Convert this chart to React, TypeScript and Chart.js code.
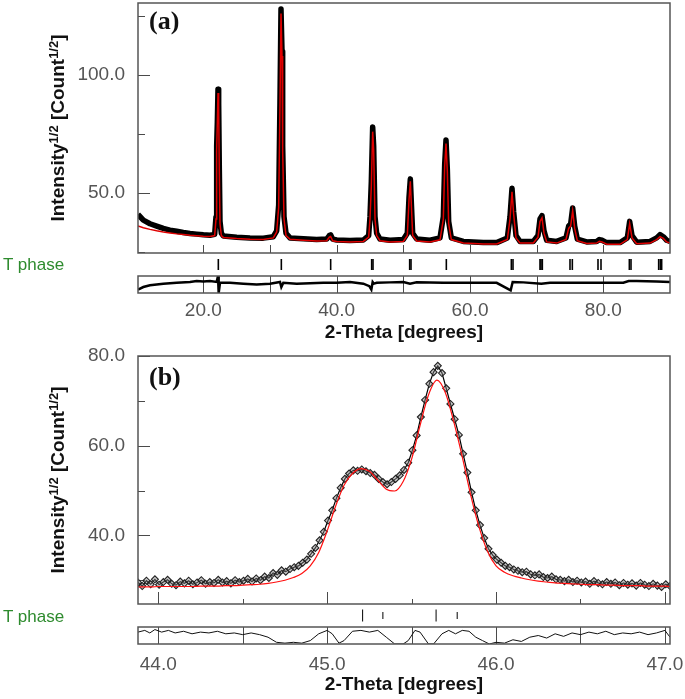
import React, { useEffect, useRef } from "react";
import { Chart, registerables } from "chart.js";

Chart.register(...registerables);

// ---------------- Panel (a): full pattern ----------------
const aTheta = [10.2, 11, 12, 13, 14, 15, 16, 17, 18, 19, 20, 21, 21.7, 21.9, 22.0, 22.1, 22.2, 22.3, 22.4, 22.5, 22.7, 23, 25, 27, 29, 30.5, 31.0, 31.3, 31.5, 31.65, 31.8, 31.9, 32.1, 32.4, 33, 35, 37, 38.5, 38.9, 39.1, 39.4, 40, 42, 44, 44.8, 45.0, 45.2, 45.4, 45.55, 45.75, 46, 46.5, 48, 50, 50.6, 50.85, 51.05, 51.2, 51.4, 52, 54, 55.5, 56.0, 56.2, 56.4, 56.6, 56.8, 57.2, 59, 62, 64, 65.6, 66.0, 66.3, 66.55, 66.9, 67.5, 69.5, 70.2, 70.5, 70.8, 71.1, 71.5, 73, 74.4, 74.8, 75.1, 75.4, 75.7, 76.1, 77.5, 79, 79.4, 79.8, 80.5, 82.5, 83.6, 83.95, 84.3, 85, 87, 88, 88.5, 89, 89.5, 90];
const aObs = [41, 38.5, 37, 36, 35, 34.3, 33.8, 33.3, 32.9, 32.6, 32.3, 32.1, 32.5, 40, 70, 80, 94, 88, 60, 38, 33, 31.8, 31.3, 31, 30.9, 31.5, 34, 45, 90, 128, 110, 70, 40, 33, 31, 30.6, 30.3, 30.5, 32, 32.3, 30.5, 30.1, 29.9, 30.1, 32, 40, 55, 78, 70, 40, 33, 30.5, 30, 30.3, 33, 48, 56, 46, 33, 30.5, 30, 31, 40, 62, 72.5, 60, 38, 31, 29.5, 29, 29, 31, 40, 52, 42, 32, 29.5, 29.5, 32, 39, 40.4, 34, 30, 29.5, 31, 36, 37, 43.7, 36, 30.5, 29.3, 29.5, 30.3, 30, 29, 29, 31, 38, 32, 29.2, 29.5, 31, 32.4, 31.5, 30, 29.5];
const aCalc = [36, 35.3, 34.6, 34, 33.5, 33.1, 32.7, 32.4, 32.1, 31.9, 31.7, 31.6, 32, 39, 68, 80, 92.4, 86, 58, 37, 32, 31.2, 30.7, 30.4, 30.3, 31, 33.5, 44, 88, 126, 108, 68, 39, 32, 30.4, 30, 29.7, 29.8, 31.3, 31.6, 29.8, 29.5, 29.3, 29.5, 31.3, 39, 53, 76, 68, 39, 32, 29.8, 29.3, 29.5, 32, 47, 55, 45, 32, 29.7, 29.3, 30.2, 39, 61, 71, 59, 37, 30.3, 28.8, 28.4, 28.4, 30.3, 39, 50.5, 41, 31, 28.8, 28.8, 31.3, 38, 39.5, 33, 29.3, 28.8, 30.3, 35, 36, 42.5, 35, 29.8, 28.6, 28.8, 29.6, 29.3, 28.3, 28.3, 30.3, 37, 31, 28.5, 28.8, 30.3, 31.5, 30.8, 29.3, 28.8];
const aDiffTheta = [10.2, 11, 12, 13, 14, 16, 18, 19, 20, 21, 22.0, 22.2, 22.3, 22.5, 24, 26, 28, 30, 31.5, 31.7, 32, 34, 36, 38, 40, 42, 44, 44.9, 45.2, 45.4, 45.6, 46, 48, 50, 51, 52, 56, 60, 64, 66.1, 66.4, 68, 70.7, 72, 75, 78, 80, 83, 83.8, 85, 88, 90];
const aDiff = [-6, -3, -1, 0, 1, 2, 3, 4, 3.5, 4, 3, 10, -10, 2, 2, 1, 0, 1, 3, -3, 2, 1, 1.5, 2, 2, 3, 1, -2, -6, 3, 1, 2, 2.5, 3, 1, 2.5, 2, 2, 2, -7, 3, 2.5, 1, 2, 2, 2, 2, 2, 4, 4, 3.5, 3];
const aTPhase = [22.25, 31.7, 39.1, 45.25, 45.45, 50.95, 51.15, 56.45, 66.2, 66.45, 70.5, 70.65, 70.85, 75.0, 75.35, 79.2, 79.65, 83.9, 84.15, 88.3, 88.55, 88.75];
const aXTicks = [20, 30, 40, 50, 60, 70, 80];
const aXLabels = [20, 40, 60, 80];
const aYTicks = [25, 50, 75, 100, 125];
const aYLabels = [50, 100];

// ---------------- Panel (b): zoom on 45° doublet ----------------
const bObsTheta = [43.88, 43.905, 43.93, 43.955, 43.98, 44.005, 44.03, 44.055, 44.08, 44.105, 44.13, 44.155, 44.18, 44.205, 44.23, 44.255, 44.28, 44.305, 44.33, 44.355, 44.38, 44.405, 44.43, 44.455, 44.48, 44.505, 44.53, 44.555, 44.58, 44.605, 44.63, 44.655, 44.68, 44.705, 44.73, 44.755, 44.78, 44.805, 44.83, 44.855, 44.88, 44.905, 44.93, 44.955, 44.98, 45.005, 45.03, 45.055, 45.08, 45.105, 45.13, 45.155, 45.18, 45.205, 45.23, 45.255, 45.28, 45.305, 45.33, 45.355, 45.38, 45.405, 45.43, 45.455, 45.48, 45.505, 45.53, 45.555, 45.58, 45.605, 45.63, 45.655, 45.68, 45.705, 45.73, 45.755, 45.78, 45.805, 45.83, 45.855, 45.88, 45.905, 45.93, 45.955, 45.98, 46.005, 46.03, 46.055, 46.08, 46.105, 46.13, 46.155, 46.18, 46.205, 46.23, 46.255, 46.28, 46.305, 46.33, 46.355, 46.38, 46.405, 46.43, 46.455, 46.48, 46.505, 46.53, 46.555, 46.58, 46.605, 46.63, 46.655, 46.68, 46.705, 46.73, 46.755, 46.78, 46.805, 46.83, 46.855, 46.88, 46.905, 46.93, 46.955, 46.98, 47.005, 47.03];
const bObs = [29.5, 28.7, 29.9, 29.1, 30.2, 29.0, 29.6, 30.1, 29.2, 28.9, 29.7, 29.3, 29.9, 29.1, 29.5, 30.0, 29.2, 29.6, 29.4, 30.1, 29.5, 29.8, 29.3, 30.0, 29.6, 29.9, 30.3, 29.7, 30.4, 30.0, 30.8, 30.5, 31.6, 31.2, 32.2, 31.9, 32.5, 32.9, 33.2, 33.9, 34.6, 35.9, 37.2, 38.9, 40.8, 43.3, 45.6, 48.3, 50.6, 52.6, 53.8, 54.5, 54.4, 54.7, 54.3, 53.9, 53.5, 52.6, 51.9, 51.4, 51.9, 52.6, 53.4, 54.6, 56.2, 59.0, 62.3, 66.4, 70.2, 73.8, 76.4, 77.8, 76.2, 72.8, 69.3, 65.9, 62.4, 58.2, 54.0, 49.6, 45.6, 42.3, 39.4, 37.0, 35.6, 34.6, 33.9, 33.2, 32.9, 32.4, 32.1, 31.8, 31.9, 31.3, 31.1, 31.3, 30.7, 30.5, 30.8, 30.2, 30.1, 29.8, 30.1, 29.6, 29.9, 29.5, 29.7, 29.2, 29.8, 29.4, 29.1, 29.6, 29.2, 29.5, 28.9, 29.4, 29.0, 29.3, 28.8, 29.4, 29.0, 28.7, 29.2, 28.8, 28.5, 29.1, 28.7];
const bCalcTheta = [43.88, 43.92, 43.96, 44.0, 44.05, 44.1, 44.15, 44.2, 44.25, 44.3, 44.35, 44.4, 44.45, 44.5, 44.55, 44.6, 44.65, 44.7, 44.75, 44.8, 44.85, 44.9, 44.95, 45.0, 45.05, 45.1, 45.15, 45.2, 45.25, 45.3, 45.35, 45.4, 45.45, 45.5, 45.55, 45.6, 45.65, 45.7, 45.75, 45.8, 45.85, 45.9, 45.95, 46.0, 46.05, 46.1, 46.15, 46.2, 46.25, 46.3, 46.35, 46.4, 46.45, 46.5, 46.55, 46.6, 46.65, 46.7, 46.75, 46.8, 46.85, 46.9, 46.95, 47.0, 47.03];
const bCalc = [28.5, 28.5, 28.5, 28.6, 28.6, 28.6, 28.6, 28.6, 28.7, 28.7, 28.7, 28.8, 28.8, 28.9, 29.0, 29.1, 29.3, 29.6, 30.0, 30.6, 31.5, 33.2, 36.2, 41.0, 46.5, 51.2, 53.8, 54.9, 54.3, 52.3, 50.3, 49.9, 52.0, 57.0, 64.5, 71.3, 74.6, 71.8, 65.3, 57.5, 49.0, 41.8, 36.4, 33.2, 31.8, 31.0, 30.5, 30.1, 29.8, 29.6, 29.4, 29.3, 29.2, 29.1, 29.0, 29.0, 28.9, 28.9, 28.8, 28.8, 28.8, 28.7, 28.7, 28.7, 28.6];
const bDiffTheta = [43.88, 43.92, 43.95, 43.98, 44.02, 44.06, 44.1, 44.15, 44.2, 44.25, 44.3, 44.35, 44.4, 44.45, 44.5, 44.55, 44.6, 44.65, 44.7, 44.75, 44.8, 44.85, 44.9, 44.95, 45.0, 45.03, 45.07, 45.1, 45.15, 45.2, 45.25, 45.3, 45.35, 45.4, 45.45, 45.48, 45.52, 45.55, 45.6, 45.63, 45.68, 45.72, 45.76, 45.8, 45.84, 45.88, 45.92, 45.96, 46.0, 46.05, 46.1, 46.15, 46.2, 46.25, 46.3, 46.35, 46.4, 46.45, 46.5, 46.55, 46.6, 46.65, 46.7, 46.75, 46.8, 46.85, 46.9, 46.95, 47.0, 47.03];
const bDiff = [4, 6, 3, 7, 4, 6, 3, 5, 2, 4, 3, 5, 2, 3, 1, 3, 1, -2, -8, -9, -8, -9, -6, 2, 6, 2, -9, -6, 5, 6, 4, 6, -2, -10, -10, -6, 6, 4, -10, -10, 2, 6, 2, 6, 5, -2, -6, -10, -8, -9, -5, -7, -2, 0, -3, 2, -1, 3, 1, 4, 2, 5, 1, 3, 2, 4, 1, 3, 6, -2];
const bTPhaseKa1 = [45.21, 45.645];
const bTPhaseKa2 = [45.33, 45.77];
const bXTicks = [44, 44.5, 45, 45.5, 46, 46.5, 47];
const bXLabels = [44, 45, 46, 47];
const bYTicks = [30, 40, 50, 60, 70, 80];
const bYLabels = [40, 60, 80];

const FONT = "'Liberation Sans', Arial, sans-serif";
const pts = (xs: number[], ys: number[]) => xs.map((x, i) => ({ x, y: ys[i] }));
const tickPts = (xs: number[]) => xs.map((x) => ({ x, y: 0.5 }));
const near = (list: number[], v: number) => list.some((l) => Math.abs(l - v) < 1e-6);

function framePlugin(p: any) {
  return {
    id: "frame",
    beforeDatasetsDraw(chart: any) {
      const { ctx, chartArea } = chart;
      const xs = chart.scales.x, ys = chart.scales.y, yd = chart.scales.yd;
      ctx.save();
      ctx.strokeStyle = "#4a4a4a";
      ctx.lineWidth = 1;
      ctx.beginPath();
      p.xTicks.forEach((v: number) => {
        const px = Math.round(xs.getPixelForValue(v)) + 0.5;
        const len = near(p.xLabels, v) ? p.xMajor : p.xMinor;
        ctx.moveTo(px, ys.bottom);
        ctx.lineTo(px, ys.bottom - len);
        ctx.moveTo(px, yd.top);
        ctx.lineTo(px, yd.bottom);
      });
      p.yTicks.forEach((v: number) => {
        const py = Math.round(ys.getPixelForValue(v)) + 0.5;
        const len = near(p.yLabels, v) ? 12 : 7;
        ctx.moveTo(chartArea.left, py);
        ctx.lineTo(chartArea.left + len, py);
      });
      ctx.stroke();
      ctx.restore();
    },
    afterDatasetsDraw(chart: any) {
      const { ctx, chartArea } = chart;
      const ys = chart.scales.y, yd = chart.scales.yd;
      ctx.save();
      ctx.strokeStyle = "#555";
      ctx.lineWidth = 1.5;
      const w = chartArea.right - chartArea.left;
      ctx.strokeRect(chartArea.left, ys.top, w, ys.bottom - ys.top);
      ctx.strokeRect(chartArea.left, yd.top, w, yd.bottom - yd.top);
      ctx.restore();
    },
  };
}

function noPad(s: any) {
  s.paddingTop = 0;
  s.paddingBottom = 0;
  s.paddingLeft = 0;
  s.paddingRight = 0;
}

function makeConfig(p: any) {
  const yWidth = (s: any) => { s.width = 138; noPad(s); };
  return {
    type: "scatter",
    data: { datasets: p.datasets },
    options: {
      animation: false,
      responsive: false,
      events: [],
      layout: { autoPadding: false, padding: { top: p.padTop, right: 15, bottom: 0, left: 0 } },
      plugins: { legend: { display: false }, tooltip: { enabled: false } },
      scales: {
        x: {
          type: "linear",
          position: "bottom",
          min: p.xMin,
          max: p.xMax,
          grid: { display: false },
          border: { display: false },
          ticks: {
            stepSize: p.xStep,
            includeBounds: false,
            autoSkip: false,
            maxRotation: 0,
            padding: p.xLabelPad,
            color: "#555",
            font: { family: FONT, size: 19 },
            callback: (v: number) => (near(p.xLabels, v) ? v.toFixed(1) : ""),
          },
          title: {
            display: true,
            text: "2-Theta [degrees]",
            color: "#111",
            font: { family: FONT, size: 19, weight: "bold" },
            padding: { top: 0, bottom: p.titlePad },
          },
          afterFit: (s: any) => { s.height = p.xHeight; noPad(s); },
        },
        y: {
          type: "linear",
          position: "left",
          stack: "panel",
          stackWeight: p.weights[0],
          weight: 3,
          min: p.yMin,
          max: p.yMax,
          grid: { display: false },
          border: { display: false },
          ticks: {
            stepSize: p.yStep,
            includeBounds: false,
            padding: 5,
            color: "#555",
            font: { family: FONT, size: 19 },
            callback: (v: number) => (near(p.yLabels, v) ? v.toFixed(1) : ""),
          },
          afterFit: yWidth,
        },
        yt: {
          type: "linear",
          position: "left",
          stack: "panel",
          stackWeight: p.weights[1],
          weight: 2,
          min: 0,
          max: 1,
          grid: { display: false },
          border: { display: false },
          ticks: { display: false },
          afterFit: yWidth,
        },
        yd: {
          type: "linear",
          position: "left",
          stack: "panel",
          stackWeight: p.weights[2],
          weight: 1,
          min: -10,
          max: 10,
          grid: { display: false },
          border: { display: false },
          ticks: { display: false },
          afterFit: yWidth,
        },
      },
    },
    plugins: [framePlugin(p)],
  };
}

function Panel(props: { config: any; width: number; height: number; top: number }) {
  const ref = useRef<HTMLCanvasElement | null>(null);
  useEffect(() => {
    if (!ref.current) return;
    const chart = new Chart(ref.current, props.config);
    return () => chart.destroy();
  }, []);
  return (
    <canvas
      ref={ref}
      width={props.width}
      height={props.height}
      style={{ position: "absolute", left: 0, top: props.top, width: props.width, height: props.height }}
    />
  );
}

const configA = makeConfig({
  xMin: 10.2, xMax: 90, xStep: 10, xLabels: aXLabels, xTicks: aXTicks, xMajor: 8, xMinor: 8,
  yMin: 24.6, yMax: 130.5, yStep: 25, yLabels: aYLabels, yTicks: aYTicks,
  padTop: 3, xHeight: 52, xLabelPad: -2, titlePad: 1, weights: [250, 23, 17],
  datasets: [
    { label: "Calc", data: pts(aTheta, aCalc), showLine: true, borderColor: "#e00000", borderWidth: 1.5, pointRadius: 0, yAxisID: "y" },
    { label: "Obs", data: pts(aTheta, aObs), showLine: true, borderColor: "#000", borderWidth: 5.5, pointRadius: 0, borderJoinStyle: "round", yAxisID: "y" },
    { label: "T phase", data: tickPts(aTPhase), showLine: false, pointStyle: "line", rotation: 90, pointRadius: 5.5, borderColor: "#000", pointBorderWidth: 1.6, yAxisID: "yt" },
    { label: "Diff", data: pts(aDiffTheta, aDiff), showLine: true, borderColor: "#000", borderWidth: 2.5, pointRadius: 0, yAxisID: "yd" },
  ],
});

const configB = makeConfig({
  xMin: 43.88, xMax: 47.03, xStep: 0.5, xLabels: bXLabels, xTicks: bXTicks, xMajor: 12, xMinor: 5,
  yMin: 24.7, yMax: 80, yStep: 10, yLabels: bYLabels, yTicks: bYTicks,
  padTop: 11, xHeight: 55, xLabelPad: 1, titlePad: 3, weights: [248, 23, 17],
  datasets: [
    { label: "Calc", data: pts(bCalcTheta, bCalc), showLine: true, borderColor: "#ff1010", borderWidth: 1.2, cubicInterpolationMode: "monotone", pointRadius: 0, yAxisID: "y" },
    { label: "Obs", data: pts(bObsTheta, bObs), showLine: true, borderColor: "#000", borderWidth: 1.2, pointStyle: "rectRot", pointRadius: 3.5, pointBorderColor: "#222", pointBackgroundColor: "rgba(130,130,130,0.45)", pointBorderWidth: 1.1, yAxisID: "y" },
    { label: "T phase Ka1", data: tickPts(bTPhaseKa1), showLine: false, pointStyle: "line", rotation: 90, pointRadius: 6, borderColor: "#000", pointBorderWidth: 1, yAxisID: "yt" },
    { label: "T phase Ka2", data: tickPts(bTPhaseKa2), showLine: false, pointStyle: "line", rotation: 90, pointRadius: 3.5, borderColor: "#000", pointBorderWidth: 1, yAxisID: "yt" },
    { label: "Diff", data: pts(bDiffTheta, bDiff), showLine: true, borderColor: "#111", borderWidth: 1, pointRadius: 0, yAxisID: "yd" },
  ],
});

const yTitleStyle = (cy: number): React.CSSProperties => ({
  position: "absolute",
  left: 58,
  top: cy,
  transform: "translate(-50%, -50%) rotate(-90deg)",
  whiteSpace: "nowrap",
  font: `bold 19px ${FONT}`,
  color: "#111",
  lineHeight: "22px",
});
const supStyle: React.CSSProperties = { fontSize: 13, verticalAlign: "6px", lineHeight: 0 };
const panelTag = (top: number): React.CSSProperties => ({
  position: "absolute",
  left: 149,
  top,
  font: "bold 26px 'Liberation Serif', 'Times New Roman', serif",
  lineHeight: "26px",
  color: "#111",
});
const phaseStyle = (cy: number): React.CSSProperties => ({
  position: "absolute",
  left: 3,
  top: cy - 10,
  font: `17px ${FONT}`,
  lineHeight: "20px",
  color: "#2e8b2e",
});

export default function App() {
  return (
    <div style={{ position: "absolute", left: 0, top: 0, width: 685, height: 699, background: "#fff", overflow: "hidden" }}>
      <Panel config={configA} width={685} height={345} top={0} />
      <Panel config={configB} width={685} height={354} top={345} />
      <div style={yTitleStyle(128)}>
        Intensity<sup style={supStyle}>1/2</sup> [Count<sup style={supStyle}>1/2</sup>]
      </div>
      <div style={yTitleStyle(480)}>
        Intensity<sup style={supStyle}>1/2</sup> [Count<sup style={supStyle}>1/2</sup>]
      </div>
      <div style={panelTag(8)}>(a)</div>
      <div style={panelTag(364)}>(b)</div>
      <div style={phaseStyle(265)}>T phase</div>
      <div style={phaseStyle(617)}>T phase</div>
    </div>
  );
}
